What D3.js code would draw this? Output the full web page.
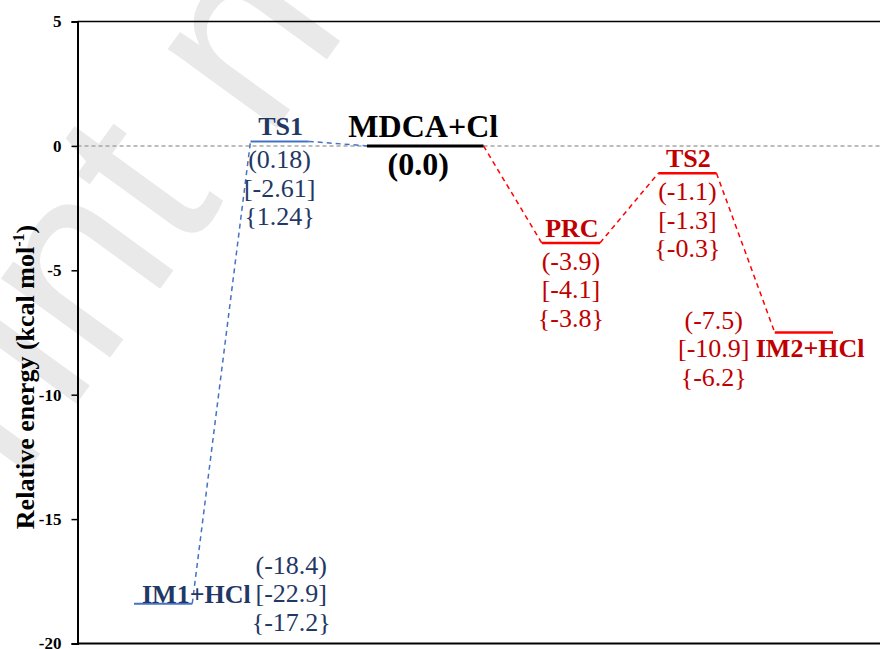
<!DOCTYPE html>
<html>
<head>
<meta charset="utf-8">
<script src="https://cdn.jsdelivr.net/npm/d3@7"></script>
<style>
  html, body { margin: 0; padding: 0; background: #fff; }
  svg { display: block; }
  text { font-family: "Liberation Serif", "Times New Roman", serif; }
</style>
</head>
<body>
<svg id="chart" width="880" height="649"></svg>
<script>
// Reaction pathway: relative energies (kcal/mol) at three levels of theory
const states      = ["IM1+HCl", "TS1", "MDCA+Cl", "PRC", "TS2", "IM2+HCl"];
const energies    = [-18.4, 0.18, 0.0, -3.9, -1.1, -7.5];   // (…) values, used for levels
const bracketVals = [-22.9, -2.61, null, -4.1, -1.3, -10.9]; // […] values
const braceVals   = [-17.2, 1.24, null, -3.8, -0.3, -6.2];   // {…} values
const decimals    = [1, 2, 1, 1, 1, 1];
const pathway     = ["abstraction", "abstraction", "reactant", "addition", "addition", "addition"];
const yTicks      = [5, 0, -5, -10, -15, -20];

const svg = d3.select("#chart");
const W = 880, H = 649;

// number formatting with a plain hyphen as minus sign
const locale = d3.formatLocale({ decimal: ".", thousands: ",", grouping: [3], currency: ["", ""], minus: "-" });

// scales
const x = d3.scaleLinear().domain([0, 12]).range([134, 833]);
const y = d3.scaleLinear().domain([-20, 5]).range([643.5, 21.5]);
const axisX = 77.5;

// background watermark
svg.append("text")
  .attr("transform", "translate(-300,922) rotate(-54)")
  .style("font-family", "'Liberation Sans', Arial, sans-serif")
  .attr("font-size", 255)
  .attr("fill", "#e9e9e9")
  .text("Preprint not peer reviewed");

// level widths in slot units (reactant level is double width), gap of one slot between levels
const widths = states.map(s => s === "MDCA+Cl" ? 2 : 1);
const starts = [];
widths.reduce((acc, w, i) => { starts[i] = acc; return acc + w + 1; }, 0);
const levels = states.map((s, i) => ({
  name: s, e: energies[i], b: bracketVals[i], c: braceVals[i], dec: decimals[i],
  path: pathway[i], x0: x(starts[i]), x1: x(starts[i] + widths[i])
}));

const lineColor = { abstraction: "#4472C4", reactant: "#000000", addition: "#FF0000" };
const textColor = { abstraction: "#1F3864", reactant: "#000000", addition: "#C00000" };

// zero reference line
svg.append("line")
  .attr("x1", axisX).attr("x2", W)
  .attr("y1", y(0)).attr("y2", y(0))
  .attr("stroke", "#a6a6a6").attr("stroke-width", 1.5)
  .attr("stroke-dasharray", "4,3");

// frame top and bottom
[5, -20].forEach(v => {
  svg.append("line")
    .attr("x1", axisX).attr("x2", W)
    .attr("y1", y(v)).attr("y2", y(v))
    .attr("stroke", "#000").attr("stroke-width", v === -20 ? 2 : 1.5);
});

// y axis
const yAxis = svg.append("g")
  .attr("transform", `translate(${axisX},0)`)
  .call(d3.axisLeft(y).tickValues(yTicks).tickSize(6).tickPadding(10).tickFormat(locale.format("d")));
yAxis.select(".domain").attr("stroke", "#000").attr("stroke-width", 2);
yAxis.selectAll(".tick line").attr("stroke", "#000").attr("stroke-width", 1.5);
yAxis.selectAll(".tick text")
  .style("font-family", "'Liberation Serif', 'Times New Roman', serif")
  .attr("font-size", 17).attr("font-weight", "bold").attr("fill", "#000");

// y axis title
const title = svg.append("text")
  .attr("transform", "translate(34,377) rotate(-90)")
  .attr("text-anchor", "middle")
  .attr("font-size", 26).attr("font-weight", "bold").attr("fill", "#000");
title.append("tspan").text("Relative energy (kcal mol");
title.append("tspan").attr("font-size", 16).attr("dy", -10).text("-1");
title.append("tspan").attr("dy", 10).text(")");

// dashed connectors between consecutive levels
for (let i = 0; i < levels.length - 1; i++) {
  const a = levels[i], b = levels[i + 1];
  const col = i < 2 ? lineColor.abstraction : lineColor.addition;
  svg.append("line")
    .attr("x1", a.x1).attr("y1", y(a.e))
    .attr("x2", b.x0).attr("y2", y(b.e))
    .attr("stroke", col).attr("stroke-width", 1.5)
    .attr("stroke-dasharray", "5,4");
}

// energy levels
svg.selectAll("line.level")
  .data(levels)
  .join("line")
  .attr("class", "level")
  .attr("x1", d => d.x0).attr("x2", d => d.x1)
  .attr("y1", d => y(d.e)).attr("y2", d => y(d.e))
  .attr("stroke", d => lineColor[d.path])
  .attr("stroke-width", d => d.path === "reactant" ? 3 : (d.path === "addition" ? 2.5 : 2));

// label helpers
const fmt = (v, dec) => locale.format(`.${dec}f`)(v);
const valueLines = d => [
  `(${fmt(d.e, d.dec)})`,
  d.b === null ? null : `[${fmt(d.b, d.dec)}]`,
  d.c === null ? null : `{${fmt(d.c, d.dec)}}`
].filter(s => s !== null);

function addText(txt, cx, by, opts) {
  return svg.append("text")
    .attr("x", cx).attr("y", by)
    .attr("text-anchor", opts.anchor || "middle")
    .attr("font-size", opts.size || 26)
    .attr("font-weight", opts.bold ? "bold" : "normal")
    .attr("fill", opts.fill)
    .text(txt);
}

const step = 28.5;
levels.forEach(d => {
  const cx = (d.x0 + d.x1) / 2;
  const ly = y(d.e);
  const col = textColor[d.path];
  const vals = valueLines(d);
  if (d.name === "MDCA+Cl") {
    addText(d.name, cx - 2, ly - 9, { bold: true, size: 32, fill: col });
    addText(vals[0], cx - 7, ly + 29, { bold: true, size: 32, fill: col });
  } else if (d.name === "IM1+HCl") {
    addText(d.name, d.x0 + 8, ly - 1, { bold: true, anchor: "start", fill: col });
    vals.forEach((v, k) => addText(v, d.x1 + 99, ly - 30 + k * step, { fill: col }));
  } else if (d.name === "IM2+HCl") {
    addText(d.name, d.x0 - 19, ly + 24, { bold: true, anchor: "start", fill: col });
    vals.forEach((v, k) => addText(v, d.x0 - 61, ly - 4 + k * step, { fill: col }));
  } else {
    addText(d.name, cx + 1, ly - 6, { bold: true, fill: col });
    vals.forEach((v, k) => addText(v, cx, ly + 27 + k * step, { fill: col }));
  }
});
</script>
</body>
</html>
